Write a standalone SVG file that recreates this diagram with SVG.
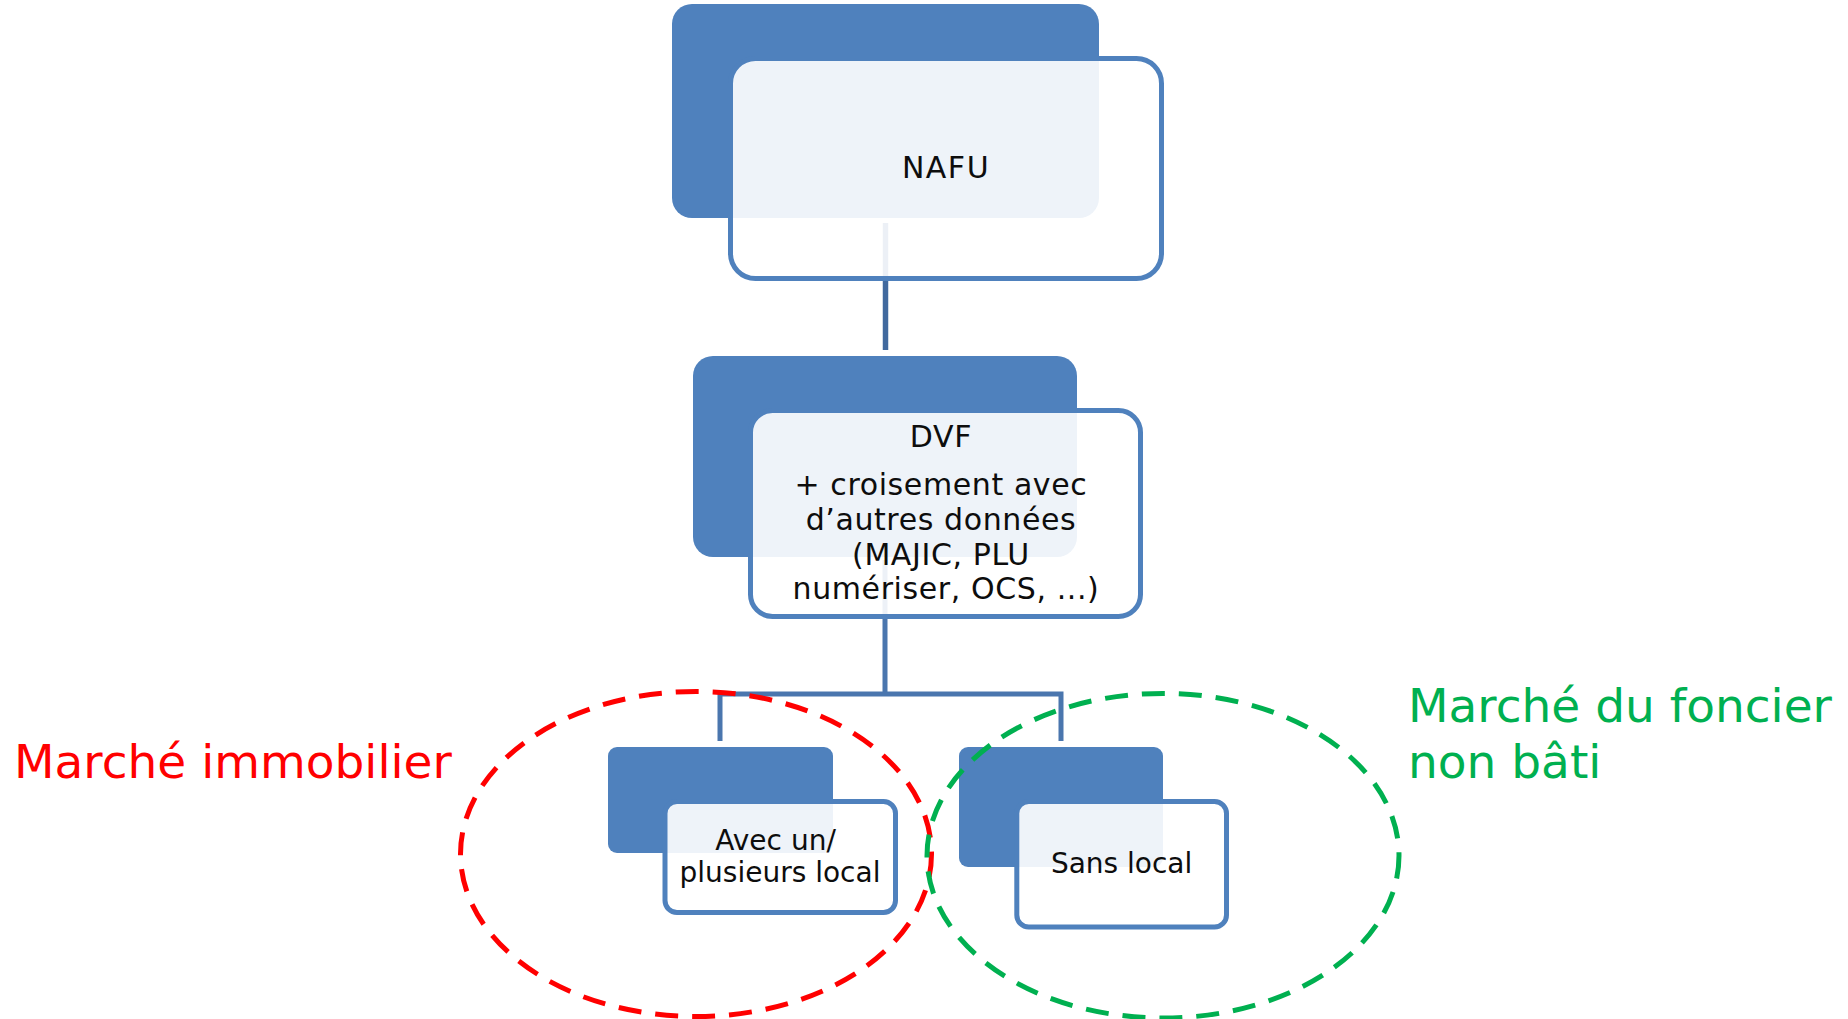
<svg xmlns="http://www.w3.org/2000/svg" width="1848" height="1019" viewBox="0 0 1848 1019">
<style>
.back{fill:#4F81BD;}
.front{fill:#FFFFFF;fill-opacity:0.9;stroke:#4F81BD;stroke-width:5;}
.lbl{font-family:"DejaVu Sans",sans-serif;fill:#0D0D0D;text-anchor:middle;}
.conn{fill:none;stroke:#4A76AE;stroke-width:5;stroke-linejoin:miter;}
.zone{fill:none;stroke-width:5;stroke-dasharray:23 14;}
</style>
<rect width="1848" height="1019" fill="#FFFFFF"/>
<g id="connectors">
  <line class="conn" x1="885.5" y1="223" x2="885.5" y2="350" style="stroke:#41699E;stroke-width:5.5"/>
  <line class="conn" x1="885" y1="560" x2="885" y2="694"/>
  <path class="conn" d="M720 741 V694 H1061 V741"/>
</g>
<g id="node-nafu">
  <rect class="back" x="672" y="4" width="427" height="214" rx="20"/>
  <rect class="front" x="730.5" y="58.5" width="431" height="220" rx="25"/>
  <text class="lbl" x="946" y="178" font-size="30" letter-spacing="1.5">NAFU</text>
</g>
<g id="node-dvf">
  <rect class="back" x="693" y="356" width="384" height="201" rx="20"/>
  <rect class="front" x="750.5" y="410.5" width="390" height="206" rx="22"/>
  <text class="lbl" font-size="30" letter-spacing="0.6">
    <tspan x="946" y="447">DVF</tspan>
    <tspan x="946" y="495">+ croisement avec</tspan>
    <tspan x="946" y="530">d’autres données</tspan>
    <tspan x="946" y="565">(MAJIC, PLU</tspan>
    <tspan x="946" y="599">numériser, OCS, ...)</tspan>
  </text>
</g>
<g id="node-avec">
  <rect class="back" x="608" y="747" width="225" height="106" rx="9"/>
  <rect class="front" x="665" y="801.5" width="230.5" height="111" rx="12"/>
  <text class="lbl" font-size="28">
    <tspan x="780" y="850">Avec un/</tspan>
    <tspan x="780" y="881.5">plusieurs local</tspan>
  </text>
</g>
<g id="node-sans">
  <rect class="back" x="959" y="747" width="204" height="120" rx="9"/>
  <rect class="front" x="1016.8" y="801.5" width="209.7" height="125.5" rx="12"/>
  <text class="lbl" x="1121.6" y="873.3" font-size="28">Sans local</text>
</g>
<g id="zone-immobilier">
  <ellipse class="zone" cx="696" cy="854" rx="235.5" ry="162.5" stroke="#FF0000"/>
  <text x="14" y="778" font-family="DejaVu Sans, sans-serif" font-size="47" fill="#FF0000">Marché immobilier</text>
</g>
<g id="zone-foncier">
  <ellipse class="zone" cx="1163" cy="855.7" rx="236" ry="162.3" stroke="#00B050"/>
  <text font-family="DejaVu Sans, sans-serif" font-size="47" fill="#00B050">
    <tspan x="1408" y="721.7">Marché du foncier</tspan>
    <tspan x="1408" y="778.3">non bâti</tspan>
  </text>
</g>
</svg>
